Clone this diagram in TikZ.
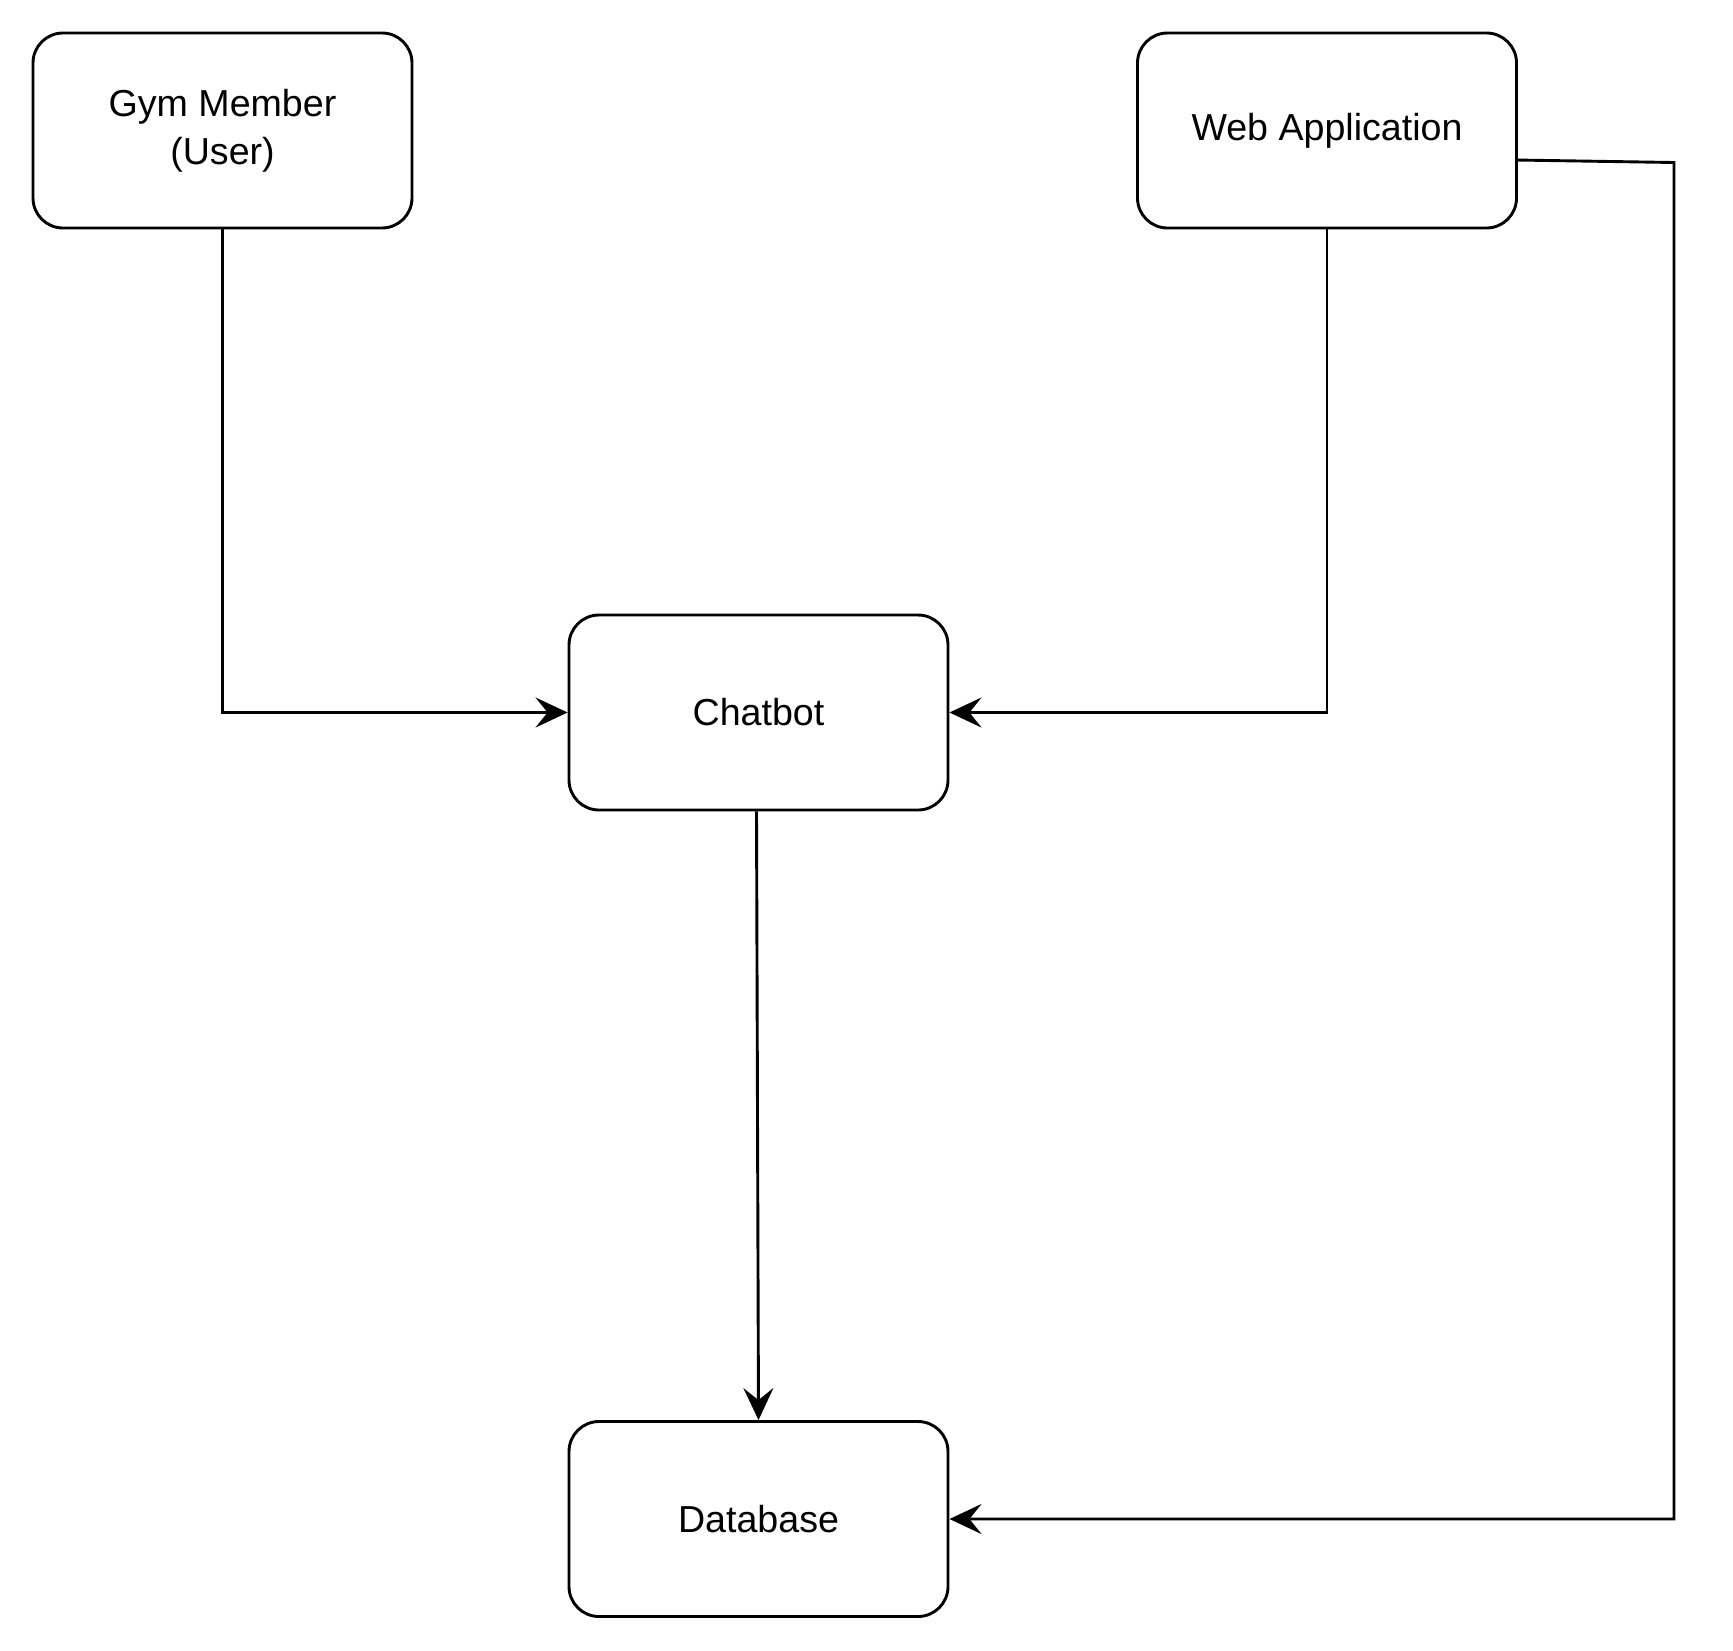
\documentclass[tikz,border=0pt]{standalone}
\usepackage{fontspec}
\setmainfont{Liberation Sans}
\usetikzlibrary{arrows.meta}
\begin{document}
\begin{tikzpicture}[x=0.5pt,y=-0.5pt,
  box/.style={draw, line width=1.45pt, rounded corners=15pt,
    minimum width=189.5pt, minimum height=97.5pt, inner sep=0pt,
    align=center, font=\fontsize{18.8}{24}\selectfont},
  conn/.style={draw, line width=1.45pt,
    -{Stealth[length=16pt,width=15pt,inset=6pt]}}]
  \useasboundingbox (0,0) rectangle (1733,1650);
  % components
  \node[box] (gym)  at (222.5,130.5) {Gym Member\\(User)};
  \node[box] (web)  at (1327,130.5)  {Web Application};
  \node[box] (chat) at (758.5,712.5) {Chatbot};
  \node[box] (db)   at (758.5,1519)  {Database};
  % data flows
  \draw[conn] (gym.south) |- (chat.west);
  \draw[conn] (web.south) |- (chat.east);
  \draw[conn] ([xshift=-1pt]chat.south) -- (db.north);
  \coordinate (turn) at (1674,162.5);
  \draw[conn] ([yshift=-14.75pt,xshift=-1pt]web.east) -- (turn) |- (db.east);
\end{tikzpicture}
\end{document}
